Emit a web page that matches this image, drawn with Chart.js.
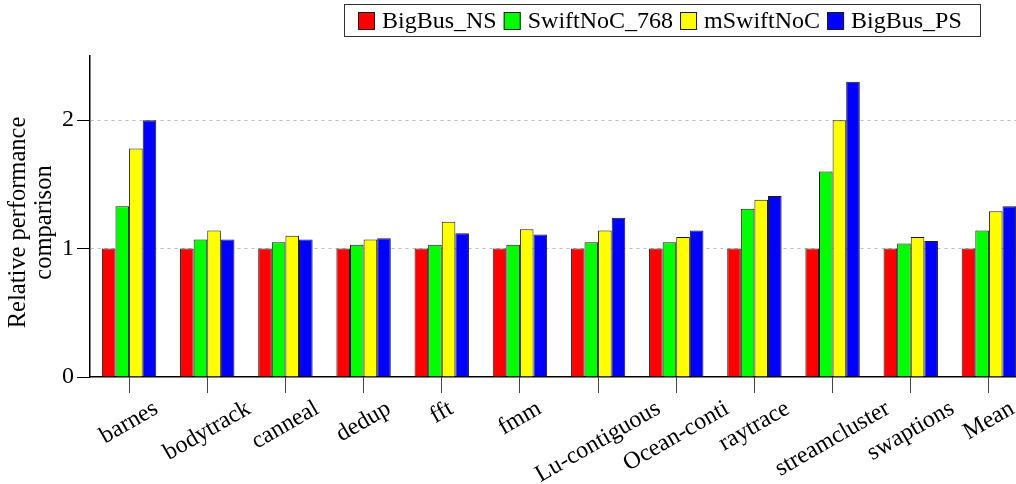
<!DOCTYPE html>
<html lang="en">
  <head>
    <meta charset="UTF-8" />
    <meta name="viewport" content="width=device-width, initial-scale=1.0" />
    <title>Relative performance comparison</title>
    <style>
      html, body { margin: 0; padding: 0; overflow: hidden; background: #fff; }
      #wrap { width: 1028px; height: 484px; position: relative; }
    </style>
  </head>
  <body>
    <div id="wrap">
      <canvas id="perfChart"></canvas>
    </div>

    <script src="https://cdn.jsdelivr.net/npm/chart.js"></script>
    <script>
      let benchmarks = ["barnes", "bodytrack", "canneal", "dedup", "fft", "fmm",
        "Lu-contiguous", "Ocean-conti", "raytrace", "streamcluster", "swaptions", "Mean"];
      let bigBusNS    = [1, 1, 1, 1, 1, 1, 1, 1, 1, 1, 1, 1];
      let swiftNoC768 = [1.33, 1.07, 1.05, 1.03, 1.03, 1.03, 1.05, 1.05, 1.31, 1.60, 1.04, 1.14];
      let mSwiftNoC   = [1.78, 1.14, 1.10, 1.07, 1.21, 1.15, 1.14, 1.09, 1.38, 2.00, 1.09, 1.29];
      let bigBusPS    = [2.00, 1.07, 1.07, 1.08, 1.12, 1.11, 1.24, 1.14, 1.41, 2.30, 1.06, 1.33];
      let yTicks = [0, 1, 2];
      let yTitle = ["Relative performance", "comparison"];

      let serif = '"Liberation Serif", "Times New Roman", serif';

      function series(label, data, color) {
        return {
          label: label,
          data: data,
          backgroundColor: color,
          borderColor: "#1a1a1a",
          borderWidth: 1,
          borderSkipped: "bottom",
          categoryPercentage: 0.696,
          barPercentage: 1.0,
        };
      }

      // legend box, rotated x labels and the two-line y title
      let extraText = {
        id: "extraText",
        afterDraw(chart) {
          let ctx = chart.ctx;
          let xScale = chart.scales.x;
          let area = chart.chartArea;
          ctx.save();
          ctx.fillStyle = "#000";

          ctx.font = "24px " + serif;
          ctx.textAlign = "center";
          ctx.textBaseline = "middle";
          let angle = (-30 * Math.PI) / 180;
          benchmarks.forEach((name, i) => {
            let x = xScale.getPixelForTick(i);
            let w = ctx.measureText(name).width;
            let boxH = w * Math.sin(-angle) + 16 * Math.cos(angle);
            ctx.save();
            ctx.translate(x, xScale.top + 23 + boxH / 2);
            ctx.rotate(angle);
            ctx.fillText(name, 0, 0);
            ctx.restore();
          });

          ctx.font = "24.5px " + serif;
          let midY = (area.top + area.bottom) / 2 + 6;
          yTitle.forEach((line, i) => {
            ctx.save();
            ctx.translate(19 + i * 26, midY);
            ctx.rotate(-Math.PI / 2);
            ctx.fillText(line, 0, 0);
            ctx.restore();
          });

          // legend
          ctx.font = "24px " + serif;
          ctx.strokeStyle = "#333";
          ctx.lineWidth = 1;
          ctx.strokeRect(344.5, 4.5, 636, 32);
          ctx.textAlign = "left";
          let lx = 358;
          chart.data.datasets.forEach((ds) => {
            ctx.fillStyle = ds.backgroundColor;
            ctx.fillRect(lx, 12.5, 17, 17);
            ctx.strokeStyle = "#1a1a1a";
            ctx.strokeRect(lx + 0.5, 12.5, 16, 17);
            ctx.fillStyle = "#000";
            ctx.fillText(ds.label, lx + 24, 21.5);
            lx += 24 + ctx.measureText(ds.label).width + 7;
          });
          ctx.restore();
        },
      };

      let canvas = document.querySelector("#perfChart");
      let chart = new Chart(canvas, {
        type: "bar",
        data: {
          labels: benchmarks,
          datasets: [
            series("BigBus_NS", bigBusNS, "#ff0000"),
            series("SwiftNoC_768", swiftNoC768, "#00ff00"),
            series("mSwiftNoC", mSwiftNoC, "#ffff00"),
            series("BigBus_PS", bigBusPS, "#0000ff"),
          ],
        },
        options: {
          responsive: true,
          maintainAspectRatio: false,
          animation: false,
          layout: { padding: { top: 56, left: 0, right: 0, bottom: 0 } },
          plugins: {
            legend: { display: false },
            tooltip: { enabled: false },
          },
          scales: {
            x: {
              offset: true,
              afterFit(scale) { scale.height = 107; },
              grid: {
                offset: false,
                drawOnChartArea: false,
                drawTicks: true,
                tickLength: 16,
                tickColor: "#444",
              },
              border: { display: true, color: "#000", width: 1.5 },
              ticks: { display: false },
            },
            y: {
              min: 0,
              max: 2.5,
              afterFit(scale) { scale.width = 90; },
              afterBuildTicks(scale) {
                scale.ticks = yTicks.map((v) => ({ value: v }));
              },
              grid: {
                color: (c) => (c.tick && c.tick.value === 0 ? "rgba(0,0,0,0)" : "#bdbdbd"),
                lineWidth: 1,
                tickColor: "#000",
                tickLength: 13,
              },
              border: { display: true, color: "#000", width: 1.5, dash: [3, 4] },
              ticks: {
                color: "#000",
                padding: 3,
                font: { family: serif, size: 24 },
              },
            },
          },
        },
        plugins: [extraText],
      });
    </script>
  </body>
</html>
